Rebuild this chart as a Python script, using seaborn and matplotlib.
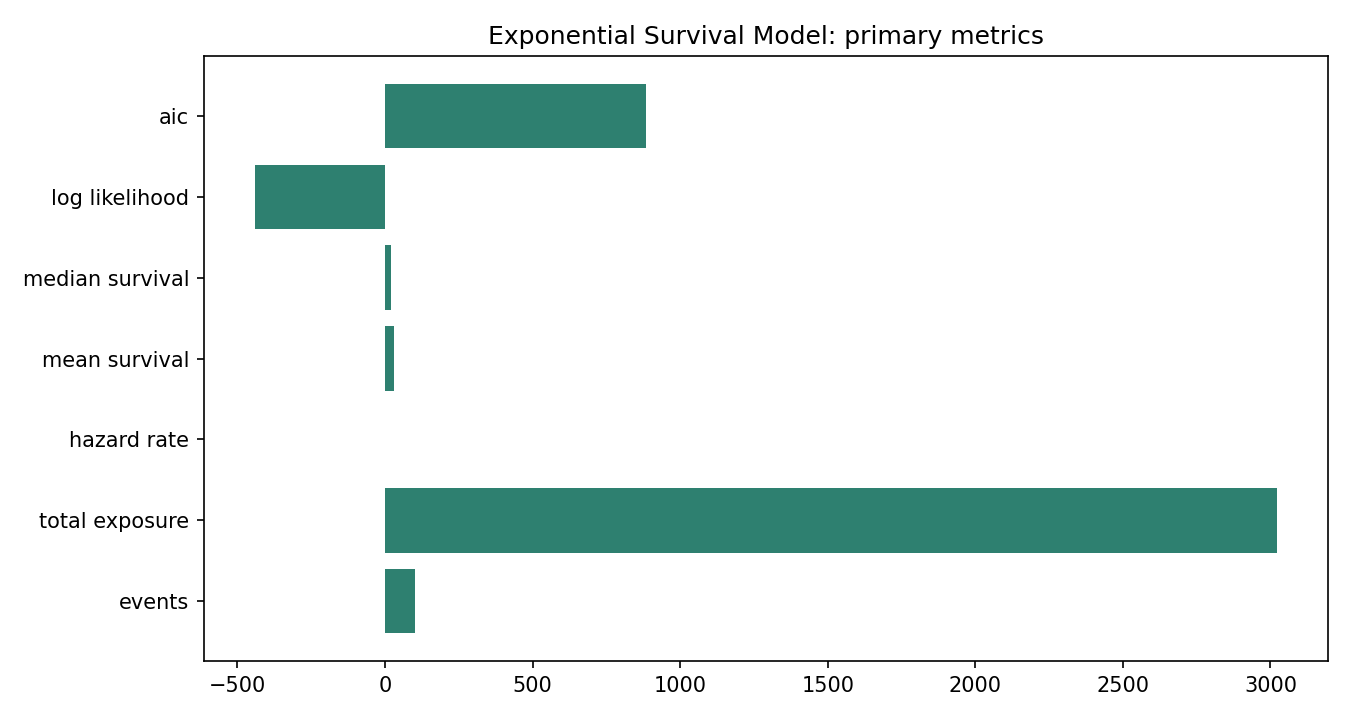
import numpy as np
import pandas as pd
import matplotlib
matplotlib.use("Agg")
import matplotlib.pyplot as plt
import seaborn as sns

metrics = ["aic", "log likelihood", "median survival", "mean survival",
           "hazard rate", "total exposure", "events"]
values = [883.6, -440.8, 20.95, 30.23, 0.0331, 3023.0, 100.0]

df = pd.DataFrame({"metric": metrics, "value": values})

fig, ax = plt.subplots(figsize=(9, 4.8), dpi=150)
sns.barplot(data=df, x="value", y="metric", color="#2e8070",
            saturation=1, width=0.8, ax=ax)

# match matplotlib's default margins instead of seaborn's category limits
ax.set_ylim(len(metrics) - 1 + 0.74, -0.74)
ax.margins(x=0.05)
ax.set_xlabel("")
ax.set_ylabel("")
ax.set_title("Exponential Survival Model: primary metrics")

fig.subplots_adjust(left=0.151, right=0.984, top=0.922, bottom=0.082)
fig.savefig("out.png", dpi=150)
